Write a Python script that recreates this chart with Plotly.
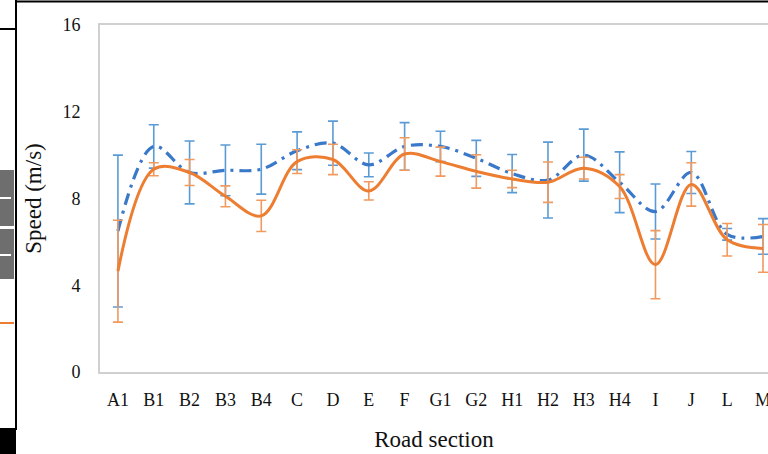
import plotly.graph_objects as go

sections = ["A1", "B1", "B2", "B3", "B4", "C", "D", "E", "F", "G1", "G2",
            "H1", "H2", "H3", "H4", "I", "J", "L", "M"]
blue_mean = [6.5, 10.4, 9.2, 9.3, 9.35, 10.2, 10.55, 9.55, 10.4, 10.4, 9.85,
             9.15, 8.85, 10.0, 8.75, 7.4, 9.2, 6.35, 6.25]
blue_err = [3.5, 1.0, 1.45, 1.17, 1.15, 0.87, 1.02, 0.55, 1.1, 0.7, 0.83,
            0.88, 1.75, 1.2, 1.4, 1.27, 0.97, 0.27, 0.82]
orange_mean = [4.65, 9.35, 9.2, 8.1, 7.2, 9.7, 9.8, 8.35, 10.05, 9.7, 9.25,
               8.9, 8.75, 9.4, 8.55, 4.95, 8.65, 6.1, 5.7]
orange_err = [2.35, 0.3, 0.6, 0.48, 0.72, 0.55, 0.7, 0.42, 0.75, 0.67, 0.77,
              0.4, 0.93, 0.5, 0.55, 1.57, 1.0, 0.75, 1.1]
y_ticks = [0, 4, 8, 12, 16]

W, H = 768, 454
L, T, B = 100, 25, 372


def px(x):
    return (x - L) / (W - L)


def py(y):
    return (B - y) / (B - T)


fig = go.Figure()
fig.add_trace(go.Scatter(
    x=list(range(len(sections))), y=blue_mean, mode="lines",
    line=dict(color="#3A78C9", width=3.2, dash="12px,6px,3px,6px", shape="spline", smoothing=1.0),
    error_y=dict(type="data", array=blue_err, visible=True, color="#5B9BD5", thickness=1.6, width=5),
    showlegend=False,
))
fig.add_trace(go.Scatter(
    x=list(range(len(sections))), y=orange_mean, mode="lines",
    line=dict(color="#ED7D31", width=3, shape="spline", smoothing=1.0),
    error_y=dict(type="data", array=orange_err, visible=True, color="#F09A60", thickness=1.6, width=5),
    showlegend=False,
))

serif = "Liberation Serif"
fig.update_layout(
    width=W, height=H,
    margin=dict(l=L, r=0, t=T, b=H - B),
    paper_bgcolor="white", plot_bgcolor="white",
    font=dict(family=serif, color="#111111", size=18),
    xaxis=dict(
        tickmode="array", tickvals=list(range(len(sections))), ticktext=sections,
        range=[-0.5, 18 + 5 / 35.8], showgrid=False, zeroline=False,
        showline=True, linecolor="#D0D0D0", linewidth=2, mirror=True,
        ticks="outside", ticklen=10, tickcolor="rgba(0,0,0,0)",
        tickfont=dict(family=serif, size=18),
        title=dict(text="Road section", font=dict(family=serif, size=23), standoff=22),
    ),
    yaxis=dict(
        tickvals=y_ticks, range=[0, 16], showgrid=False, zeroline=False,
        showline=True, linecolor="#D0D0D0", linewidth=2,
        ticks="outside", ticklen=14, tickcolor="rgba(0,0,0,0)",
        tickfont=dict(family=serif, size=18),
        title=dict(text="Speed (m/s)", font=dict(family=serif, size=23), standoff=14),
    ),
)

# last tick label, partly cut off at the right edge as in the reference
fig.add_annotation(
    x=len(sections) - 1, xref="x", y=py(400), yref="paper",
    text=sections[-1], showarrow=False, xanchor="center", yanchor="middle",
    font=dict(family=serif, size=18, color="#111111"),
)

shapes = [
    # outer black frame remnants
    dict(type="line", x0=px(16), x1=px(768), y0=py(1.5), y1=py(1.5), line=dict(color="black", width=2)),
    dict(type="line", x0=px(16), x1=px(16), y0=py(0), y1=py(430), line=dict(color="black", width=2)),
    dict(type="line", x0=px(0), x1=px(16), y0=py(29), y1=py(29), line=dict(color="black", width=2)),
    dict(type="rect", x0=px(0), x1=px(16), y0=py(428), y1=py(454), fillcolor="black", line=dict(width=0)),
    # gray legend boxes
    dict(type="rect", x0=px(0), x1=px(14), y0=py(170), y1=py(226), fillcolor="#6E6E6E", line=dict(width=0)),
    dict(type="rect", x0=px(0), x1=px(14), y0=py(229), y1=py(279), fillcolor="#6E6E6E", line=dict(width=0)),
    dict(type="line", x0=px(0), x1=px(11), y0=py(198), y1=py(198), line=dict(color="white", width=2)),
    dict(type="line", x0=px(0), x1=px(11), y0=py(255), y1=py(255), line=dict(color="white", width=2)),
    dict(type="line", x0=px(0), x1=px(14), y0=py(323), y1=py(323), line=dict(color="#ED7D31", width=2)),
]
for s in shapes:
    s.update(xref="paper", yref="paper", layer="above")
fig.update_layout(shapes=shapes)

fig.write_html(
    "out.html",
    config={"displayModeBar": False},
    post_script="document.body.style.margin='0';document.body.style.overflow='hidden';",
)
